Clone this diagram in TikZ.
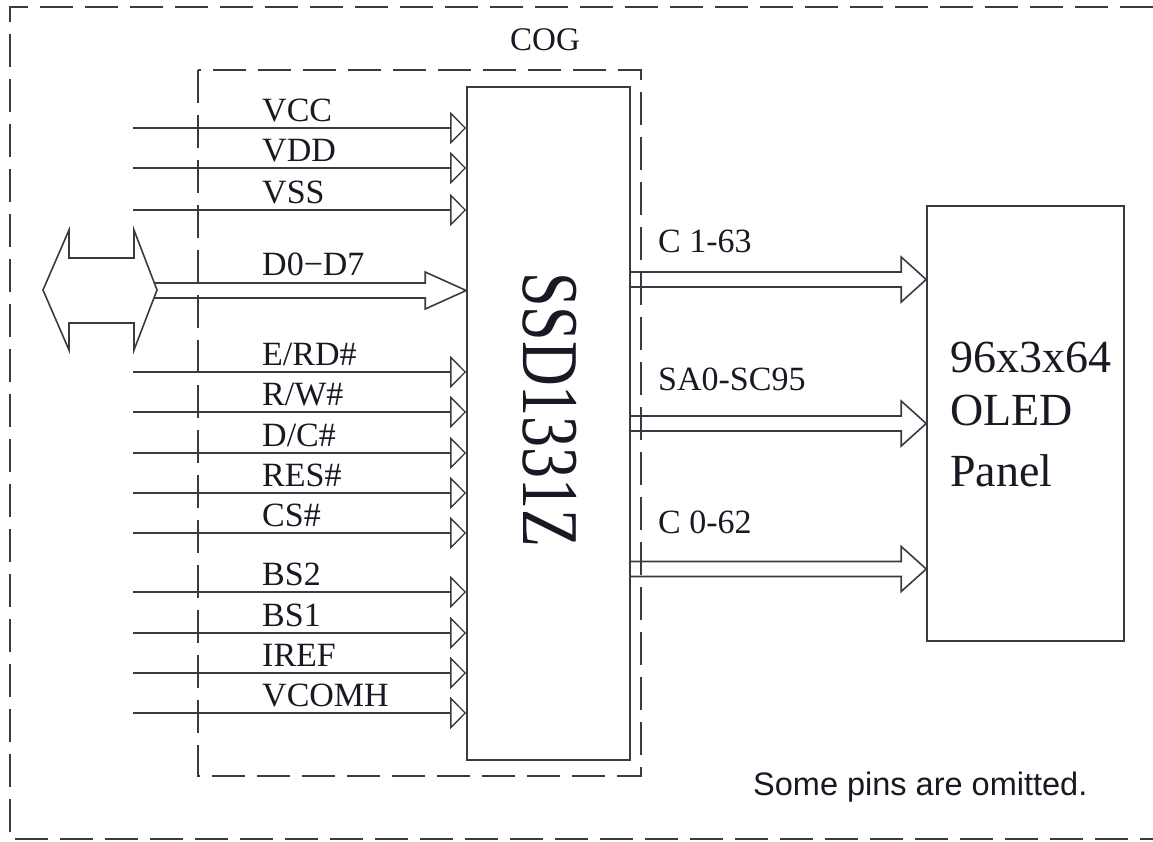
\documentclass[tikz,border=0pt]{standalone}
\usepackage{fontspec}
\setmainfont{Liberation Serif}
\newfontfamily\notefont{Liberation Sans}
\usetikzlibrary{arrows.meta,calc}
\definecolor{cogline}{RGB}{55,60,66}
\definecolor{cogtext}{RGB}{25,25,35}

\tikzset{
  wire/.style={draw=cogline, line width=1.6pt, line join=miter},
  pinarrow/.style={wire, -{Triangle[open, length=16pt, width=32pt, line width=1.3pt]}},
  pinlabel/.style={anchor=base west, inner sep=0pt, text=cogtext, font=\fontsize{34}{40}\selectfont},
  dashbox/.style={draw=cogline, line width=1.6pt, dash pattern=on 33pt off 12pt},
  blockbox/.style={draw=cogline, line width=1.6pt, rectangle, inner sep=0pt},
}

\begin{document}
\begin{tikzpicture}[x=1pt, y=-1pt]
\useasboundingbox (0,0) rectangle (1153,841);
% outer frame and COG outline
\draw[dashbox] (1153,7) -- (10,7) -- (10,839) -- (1153,839);
\draw[dashbox] (198,70) rectangle (641,776);
\node[anchor=base, inner sep=0pt, text=cogtext, font=\fontsize{33}{40}\selectfont] (cog) at (545,50) {COG};

% driver chip and panel
\node[blockbox, minimum width=163pt, minimum height=673pt] (chip) at (548.5,423.5) {};
\node[rotate=-90, inner sep=0pt, text=cogtext, font=\fontsize{62}{70}\selectfont] (chipname) at (550,410) {\scalebox{1}[1.3]{SSD1331Z}};
\node[blockbox, minimum width=197pt, minimum height=435pt] (panel) at (1025.5,423.5) {};
\foreach \y/\txt [count=\i] in {372/96x3x64, 425/OLED, 486/Panel}
  \node[anchor=base west, inner sep=0pt, text=cogtext, font=\fontsize{46}{52}\selectfont] (ptext\i) at (950,\y) {\txt};

% single pins
\foreach \y/\name in {128/VCC, 168/VDD, 210/VSS, 372/{E/RD\#}, 412/{R/W\#}, 453/{D/C\#}, 493/RES\#, 533/CS\#, 592/BS2, 633/BS1, 673/IREF, 713/VCOMH} {
  \coordinate (pin\y) at (133,\y);
  \draw[pinarrow] (pin\y) -- (pin\y -| chip.west);
  \node[pinlabel] (lab\y) at (262,\y-7) {\name};
}

% data bus
\draw[wire] (43,290) -- (69,230) -- (69,258) -- (134,258) -- (134,230) -- (157,290)
  -- (134,350) -- (134,323) -- (69,323) -- (69,350) -- cycle;
\coordinate (dbus) at (154,290.5);
\draw[wire] ($(dbus)+(0,-7.5)$) -- ($(dbus -| chip.west)+(-41,-7.5)$) -- ++(0,-11)
  -- (dbus -| chip.west) -- ($(dbus -| chip.west)+(-41,18.5)$) -- ++(0,-11) -- ($(dbus)+(0,7.5)$);
\node[pinlabel] (dlab) at (262,275) {D0−D7};

% outputs to panel
\foreach \y/\b/\name [count=\i] in {279.5/252/C 1-63, 423.5/390/SA0-SC95, 569/533/C 0-62} {
  \coordinate (src\i) at (chip.east |- 0,\y);
  \coordinate (dst\i) at (panel.west |- 0,\y);
  \draw[wire] ($(src\i)+(0,-7.5)$) -- ($(dst\i)+(-25,-7.5)$) -- ++(0,-15) -- (dst\i)
    -- ($(dst\i)+(-25,22.5)$) -- ++(0,-15) -- ($(src\i)+(0,7.5)$);
  \node[pinlabel] (olab\i) at (658,\b) {\name};
}

\node[anchor=base west, inner sep=0pt, text=cogtext, font=\notefont\fontsize{32.5}{38}\selectfont] (note) at (753,795) {Some pins are omitted.};
\end{tikzpicture}
\end{document}
